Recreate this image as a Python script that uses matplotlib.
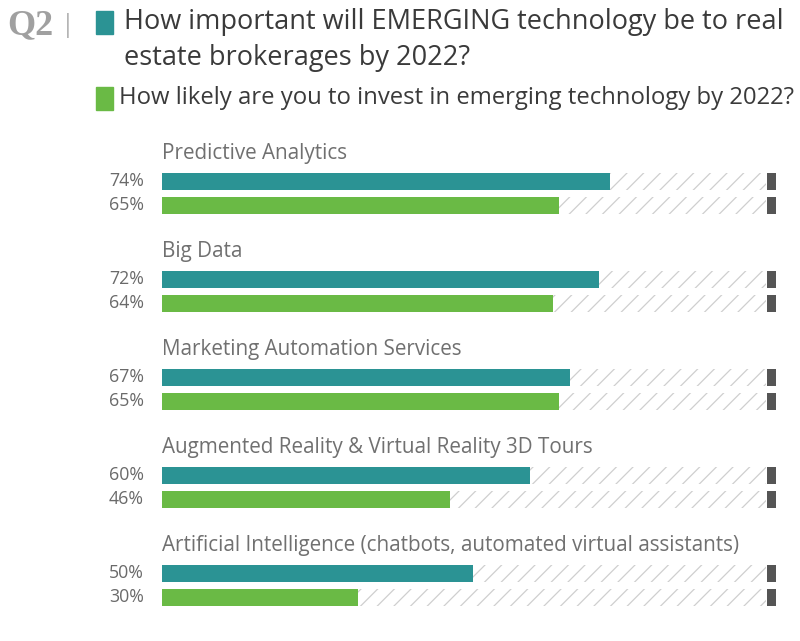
import matplotlib.pyplot as plt
from matplotlib.patches import Rectangle

plt.rcParams['font.family'] = ['Open Sans', 'DejaVu Sans']
plt.rcParams['hatch.color'] = '#cfcfcf'
plt.rcParams['hatch.linewidth'] = 0.9

# Data
categories = ['Predictive Analytics', 'Big Data', 'Marketing Automation Services',
              'Augmented Reality & Virtual Reality 3D Tours',
              'Artificial Intelligence (chatbots, automated virtual assistants)']
important = [74, 72, 67, 60, 50]
invest = [65, 64, 65, 46, 30]

teal = '#2b9394'
green = '#6aba45'
cap = '#555555'

W, H = 800, 641
fig = plt.figure(figsize=(W / 100, H / 100), dpi=100)
renderer = fig.canvas.get_renderer()


def fit(t, width):
    # scale the font so the text spans the given pixel width
    w = t.get_window_extent(renderer).width
    t.set_fontsize(t.get_fontsize() * width / w)


# axes: x in percent, y in pixel rows (top = 0)
x0, x1 = -4.2, 101.2
ax = fig.add_axes([162 / W, 0, (766 - 162) / W, 1])
ax.set_xlim(x0, x1)
ax.set_ylim(H, 0)
ax.axis('off')

bar_h = 17
cat_texts = []
pct_texts = []
for i, cat in enumerate(categories):
    y1 = 181 + 98 * i
    y2 = y1 + 24
    for y, v, col in [(y1, important[i], teal), (y2, invest[i], green)]:
        ax.barh(y, v - x0, height=bar_h, color=col, left=x0)
        ax.barh(y, x1 - v, height=bar_h, left=v, color='white',
                hatch='//', edgecolor='#cfcfcf', linewidth=0)
        ax.barh(y, 1.6, height=bar_h, left=x1 + 0.2, color=cap, clip_on=False)
        pct_texts.append(ax.text(x0 - 3.2, y, f'{v}%', ha='right', va='center',
                                 fontsize=12.5, color='#6a6a6a'))
    cat_texts.append(ax.text(x0, y1 - 28, cat, ha='left', va='center',
                             fontsize=13.5, color='#707070'))

fit(cat_texts[-1], 576)
for t in cat_texts:
    t.set_fontsize(cat_texts[-1].get_fontsize())
fit(pct_texts[0], 35)
for t in pct_texts:
    t.set_fontsize(pct_texts[0].get_fontsize())

# header
fig.text(7 / W, 1 - 26 / H, 'Q2', fontsize=26, family='Liberation Serif',
         color='#a0a0a0', va='center', ha='left', weight='bold')
fig.text(61 / W, 1 - 26 / H, '|', fontsize=18, color='#b5b5b5',
         va='center', ha='left')
fig.add_artist(Rectangle((96 / W, 1 - 34 / H), 17 / W, 23 / H,
                         transform=fig.transFigure, color=teal))
fig.add_artist(Rectangle((96 / W, 1 - 110 / H), 17 / W, 23 / H,
                         transform=fig.transFigure, color=green))
t1 = fig.text(124 / W, 1 - 22 / H,
              'How important will EMERGING technology be to real',
              fontsize=16, color='#3a3a3a', va='center', ha='left')
fit(t1, 658)
fig.text(124 / W, 1 - 58 / H, 'estate brokerages by 2022?',
         fontsize=t1.get_fontsize(), color='#3a3a3a', va='center', ha='left')
t3 = fig.text(119 / W, 1 - 98 / H,
              'How likely are you to invest in emerging technology by 2022?',
              fontsize=16, color='#3a3a3a', va='center', ha='left')
fit(t3, 676)

fig.savefig('out.png', dpi=100, facecolor='white')
